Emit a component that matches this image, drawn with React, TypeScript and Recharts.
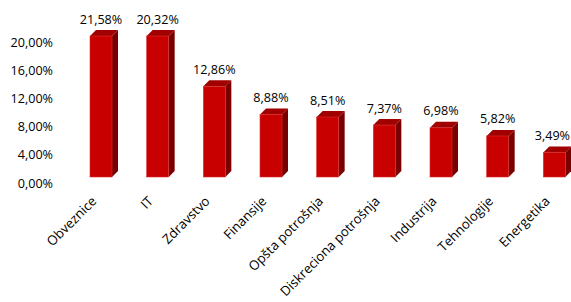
import React from 'react';
import { BarChart, Bar, XAxis, YAxis, LabelList } from 'recharts';

const categories = ['Obveznice', 'IT', 'Zdravstvo', 'Finansije', 'Opšta potrošnja', 'Diskreciona potrošnja', 'Industrija', 'Tehnologije', 'Energetika'];
const values = [21.58, 20.32, 12.86, 8.88, 8.51, 7.37, 6.98, 5.82, 3.49];
const yTicks = [0, 4, 8, 12, 16, 20];
const AXIS_MAX = 20;

const data = categories.map((name, i) => ({ name, value: values[i] }));

const FONT = '"Open Sans", sans-serif';
const DEPTH_X = 6;
const DEPTH_Y = 6;
const VIEW_RIGHT = 571;
const fmt = (v: number) => `${v.toFixed(2).replace('.', ',')}%`;

const Bar3D = (props: any) => {
  const { x, y, width, height } = props;
  if (height == null || width == null) return null;
  const bottom = y + height;
  const r = x + width;
  return (
    <g>
      <polygon
        points={`${r},${y} ${r + DEPTH_X},${y - DEPTH_Y} ${r + DEPTH_X},${bottom - DEPTH_Y} ${r},${bottom}`}
        fill="#7a0000"
      />
      <polygon
        points={`${x},${y} ${x + DEPTH_X},${y - DEPTH_Y} ${r + DEPTH_X},${y - DEPTH_Y} ${r},${y}`}
        fill="#a00000"
      />
      <rect x={x} y={y} width={width} height={height} fill="#c80000" stroke="#d83030" strokeWidth={0.6} />
    </g>
  );
};

const YTick = (props: any) => {
  const { y, payload } = props;
  return (
    <text x={53} y={y + 6} dy={4.5} textAnchor="end" fontFamily={FONT} fontSize={12.6} fill="#000">
      {fmt(payload.value)}
    </text>
  );
};

const XTick = (props: any) => {
  const { x, payload } = props;
  const ax = x - 4;
  const ay = 202;
  return (
    <text x={ax} y={ay} textAnchor="end" transform={`rotate(-45, ${ax}, ${ay})`} fontFamily={FONT} fontSize={13.2} fill="#000">
      {payload.value}
    </text>
  );
};

const ValueLabel = (props: any) => {
  const { x, y, width, value } = props;
  const cx = x + width / 2;
  const half = 24;
  const overflow = cx + half > VIEW_RIGHT;
  return (
    <text
      x={overflow ? VIEW_RIGHT - 1 : cx}
      y={y - 12.5}
      textAnchor={overflow ? 'end' : 'middle'}
      fontFamily={FONT}
      fontSize={12.6}
      fill="#000"
    >
      {fmt(value)}
    </text>
  );
};

export default function App() {
  return (
    <div style={{ position: 'fixed', left: 0, top: 0, width: 571, height: 302, overflow: 'hidden', background: '#fff' }}>
      <BarChart width={600} height={302} data={data} margin={{ top: 36, right: 17, bottom: 0, left: 0 }}>
        <XAxis dataKey="name" interval={0} height={125} axisLine={false} tickLine={false} tick={<XTick />} />
        <YAxis width={73} domain={[0, AXIS_MAX]} ticks={yTicks} axisLine={false} tickLine={false} tick={<YTick />} />
        <Bar
          dataKey={(d: any) => Math.min(d.value, AXIS_MAX)}
          barSize={22}
          shape={<Bar3D />}
          isAnimationActive={false}
        >
          <LabelList dataKey="value" content={<ValueLabel />} />
        </Bar>
      </BarChart>
    </div>
  );
}
